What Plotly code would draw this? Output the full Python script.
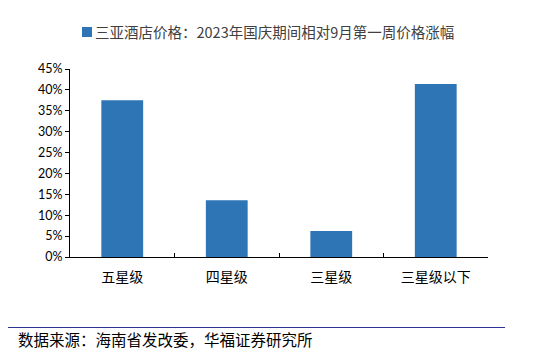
import plotly.graph_objects as go

categories = ["五星级", "四星级", "三星级", "三星级以下"]
values = [0.375, 0.136, 0.062, 0.414]
series_name = "三亚酒店价格：2023年国庆期间相对9月第一周价格涨幅"
source_text = "数据来源：海南省发改委，华福证券研究所"
y_ticks = [0, 0.05, 0.10, 0.15, 0.20, 0.25, 0.30, 0.35, 0.40, 0.45]

BAR_COLOR = "#2E75B6"
CJK = "Noto Sans CJK SC"

fig = go.Figure()
fig.add_trace(go.Bar(
    x=categories, y=values, name=series_name,
    marker=dict(color=BAR_COLOR, line=dict(width=0)),
    width=0.4, showlegend=False,
))

# page has an 8px body margin; target plot area on page: x 70..488, y 69..257
OFF = 8
W, H = 550, 362
L, T = 70 - OFF, 69 - OFF
R, B = W - (488 - OFF), H - (257 - OFF)
pw, ph = W - L - R, H - T - B

def px_x(px):
    return (px - OFF - L) / pw

def px_y(py):
    return (H - B - (py - OFF)) / ph

shapes = [
    dict(type="rect", xref="paper", yref="paper",
         x0=px_x(82), x1=px_x(92), y0=px_y(37), y1=px_y(27),
         fillcolor=BAR_COLOR, line=dict(width=0)),
    dict(type="line", xref="paper", yref="paper",
         x0=px_x(5), x1=px_x(505), y0=px_y(327.5), y1=px_y(327.5),
         line=dict(color="#2E3192", width=1)),
]
annotations = [
    dict(text=series_name, xref="paper", yref="paper",
         x=px_x(93), y=px_y(32), xanchor="left", yanchor="middle",
         showarrow=False, font=dict(family=CJK, size=14.5, color="#404040")),
    dict(text=source_text, xref="paper", yref="paper",
         x=px_x(16), y=px_y(339), xanchor="left", yanchor="middle",
         showarrow=False, font=dict(family=CJK, size=15.5, color="#000000")),
]

fig.update_layout(
    width=W, height=H,
    margin=dict(l=L, r=R, t=T, b=B, pad=0),
    paper_bgcolor="white", plot_bgcolor="white",
    shapes=shapes, annotations=annotations,
)
fig.update_xaxes(
    type="category", showline=True, linecolor="#000000", linewidth=1,
    ticks="inside", tickson="boundaries", ticklen=4, tickcolor="#000000",
    tickfont=dict(family=CJK, size=14, color="#000000"),
    ticklabelstandoff=7,
    showgrid=False, zeroline=False,
)
fig.update_yaxes(
    range=[0, 0.45], tickvals=y_ticks, tickformat=".0%",
    showline=True, linecolor="#000000", linewidth=1,
    ticks="outside", ticklen=4, tickcolor="#000000",
    tickfont=dict(family="Lato", size=12.5, color="#000000"),
    showgrid=False, zeroline=False,
)

fig.write_html("out.html")
